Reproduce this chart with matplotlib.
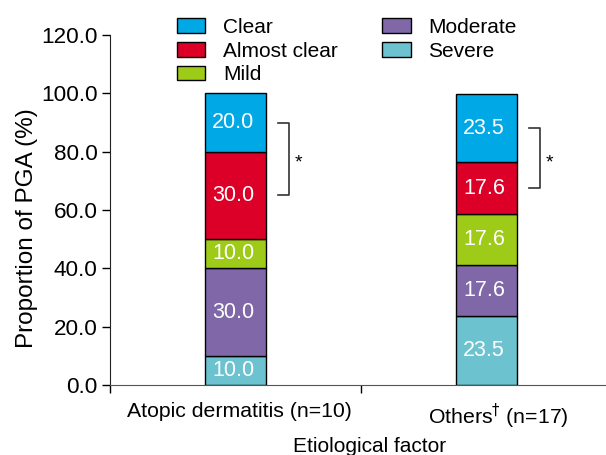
import matplotlib
matplotlib.use("Agg")
import matplotlib.pyplot as plt
import matplotlib.transforms as mtransforms
import numpy as np

plt.rcParams['font.family'] = ['Liberation Sans', 'DejaVu Sans']

categories = ["Atopic dermatitis (n=10)", "Others$^{\u2020}$ (n=17)"]
levels = ["Severe", "Moderate", "Mild", "Almost clear", "Clear"]
severe = [10.0, 23.5]
moderate = [30.0, 17.6]
mild = [10.0, 17.6]
almost_clear = [30.0, 17.6]
clear = [20.0, 23.5]
series = [severe, moderate, mild, almost_clear, clear]
colors = ["#6cc2cf", "#8068a8", "#9dcb18", "#dc0028", "#00a8e6"]
yticks = [0, 20, 40, 60, 80, 100, 120]

fig = plt.figure(figsize=(6.06, 4.55), dpi=100)
ax = fig.add_axes([110/606, 70/455, 502/606, 350/455])

x = np.array([0.5, 1.5])
width = 0.24
bottom = np.zeros(2)
handles = {}
for name, vals, col in zip(levels, series, colors):
    vals = np.array(vals)
    b = ax.bar(x, vals, width, bottom=bottom, color=col, edgecolor="black",
               linewidth=1.0, label=name)
    handles[name] = b
    for xi, v, bt in zip(x, vals, bottom):
        ax.text(xi - 0.01, bt + v / 2, f"{v:.1f}", color="white", fontsize=15.5,
                ha="center", va="center")
    bottom += vals

# significance brackets between Clear and Almost clear midpoints
for i in range(2):
    y_top = bottom[i] - clear[i] / 2
    y_bot = bottom[i] - clear[i] - almost_clear[i] / 2
    xb = x[i] + width / 2 + 0.05
    xe = xb + 0.045
    ax.plot([xb, xe, xe, xb], [y_top, y_top, y_bot, y_bot], color="#333333", lw=1.2)
    ax.text(xe + 0.035, (y_top + y_bot) / 2 - 1.5, "*", fontsize=14, ha="center", va="center")

ax.set_xlim(0, 2)
ax.set_ylim(0, 120)
ax.set_yticks(yticks)
ax.set_yticklabels([f"{v:.1f}" for v in yticks], fontsize=16.2)
ax.set_xticks(x)
ax.set_xticklabels(categories, fontsize=15.3)
ax.tick_params(axis="x", length=0, pad=12)
ax.set_xticks([0, 1, 2], minor=True)
ax.tick_params(axis="x", which="minor", length=6, width=1)
ax.tick_params(axis="y", length=6, width=1, pad=3)
for lab, dx in zip(ax.get_xticklabels(), [4, 12]):
    lab.set_transform(lab.get_transform() + mtransforms.ScaledTranslation(dx / 100, 0, fig.dpi_scale_trans))
for s in ["top", "right"]:
    ax.spines[s].set_visible(False)
ax.spines["left"].set_color("#222222")
ax.spines["bottom"].set_color("#555555")

ax.set_xlabel("Etiological factor", fontsize=15)
ax.xaxis.set_label_coords((370 - 110) / 502, -52 / 350)
ax.set_ylabel("Proportion of PGA (%)", fontsize=17.5)
ax.yaxis.set_label_coords(-72 / 502, (385 - 228) / 350)

order = ["Clear", "Almost clear", "Mild", "Moderate", "Severe"]
leg = fig.legend([handles[n] for n in order], order, ncol=2, loc="upper left",
                 bbox_to_anchor=(177 / 606, 1 - 18 / 455), frameon=False,
                 fontsize=15, handlelength=1.35, handleheight=0.7,
                 handletextpad=0.85, columnspacing=2.15, labelspacing=0.22,
                 borderaxespad=0, borderpad=0)

fig.savefig("out.png", dpi=100)
